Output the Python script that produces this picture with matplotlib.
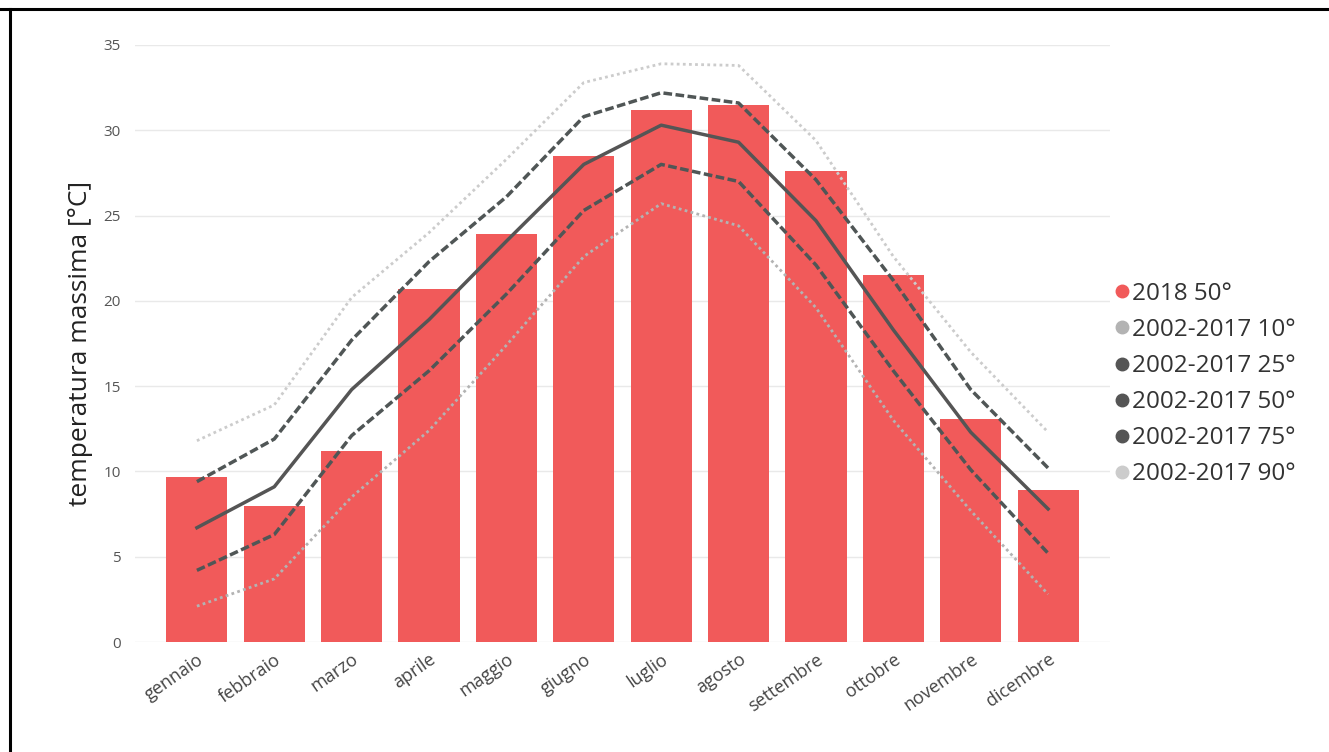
import matplotlib
matplotlib.use("Agg")
import matplotlib.pyplot as plt
import matplotlib.transforms as mtransforms
from matplotlib.lines import Line2D

plt.rcParams['font.family'] = ['Open Sans', 'DejaVu Sans']

months = ["gennaio", "febbraio", "marzo", "aprile", "maggio", "giugno",
          "luglio", "agosto", "settembre", "ottobre", "novembre", "dicembre"]

t2018_p50 = [9.7, 8.0, 11.2, 20.7, 23.9, 28.5, 31.2, 31.5, 27.6, 21.5, 13.1, 8.9]

p10 = [2.1, 3.7, 8.5, 12.4, 17.4, 22.6, 25.7, 24.4, 19.6, 13.0, 7.7, 2.8]
p25 = [4.2, 6.3, 12.1, 15.9, 20.4, 25.3, 28.0, 27.0, 22.1, 15.9, 10.1, 5.2]
p50 = [6.7, 9.1, 14.8, 18.9, 23.5, 28.0, 30.3, 29.3, 24.7, 18.3, 12.3, 7.8]
p75 = [9.4, 11.9, 17.7, 22.3, 26.1, 30.8, 32.2, 31.6, 27.1, 21.2, 14.8, 10.2]
p90 = [11.8, 13.9, 20.2, 24.0, 28.3, 32.8, 33.9, 33.8, 29.4, 22.6, 17.0, 12.3]

yticks = [0, 5, 10, 15, 20, 25, 30, 35]
legend_labels = ["2018 50°", "2002-2017 10°", "2002-2017 25°",
                 "2002-2017 50°", "2002-2017 75°", "2002-2017 90°"]

bar_color = "#F15A5A"
c10 = "#b3b3b3"
c25 = "#505656"
c50 = "#555555"
c75 = "#505656"
c90 = "#cccccc"

fig = plt.figure(figsize=(13.29, 7.52), dpi=100)
ax = fig.add_axes([135 / 1329, 110 / 752, 975 / 1329, 597 / 752])

x = list(range(len(months)))
ax.bar(x, t2018_p50, width=0.79, color=bar_color, zorder=2)

ax.plot(x, p90, color=c90, lw=2, ls=(0, (1, 1.2)), zorder=3)
ax.plot(x, p10, color=c10, lw=2, ls=(0, (1, 1.2)), zorder=3)
ax.plot(x, p75, color=c75, lw=2.5, ls=(0, (2.5, 1)), zorder=4)
ax.plot(x, p25, color=c25, lw=2.5, ls=(0, (2.5, 1)), zorder=4)
ax.plot(x, p50, color=c50, lw=2.5, ls="-", zorder=5)

ax.set_xlim(-0.8, 11.8)
ax.set_ylim(0, 35)
ax.set_yticks(yticks)
ax.set_yticklabels([str(v) for v in yticks], fontsize=11, color="#555555")
ax.set_xticks(x)
ax.set_xticklabels(months, rotation=35, ha="right", rotation_mode="anchor",
                   fontsize=13, color="#444444")
shift = mtransforms.ScaledTranslation(-5 / 100, 0, fig.dpi_scale_trans)
for lbl in ax.get_xticklabels():
    lbl.set_transform(lbl.get_transform() + shift)
ax.tick_params(axis="both", length=0)
ax.tick_params(axis="y", pad=10)
ax.tick_params(axis="x", pad=6)
ax.grid(axis="y", color="#e9e9e9", lw=1, zorder=0)
ax.set_axisbelow(True)
for s in ax.spines.values():
    s.set_visible(False)

ax.set_ylabel("temperatura massima [°C]", fontsize=19, color="#222222", labelpad=8)

handles = [Line2D([], [], ls="none", marker="o", markersize=9, color=c)
           for c in [bar_color, c10, "#555555", "#555555", "#555555", c90]]
fig.legend(handles, legend_labels, loc="upper left",
           bbox_to_anchor=(1103 / 1329, 1 - 272 / 752), frameon=False,
           fontsize=17.5, labelcolor="#333333", handletextpad=0.0,
           handlelength=0.8, labelspacing=0.5, borderaxespad=0)

# frame edges on top and left
fig.add_artist(Line2D([0, 1], [1 - 9 / 752, 1 - 9 / 752], color="black", lw=2.2,
                      transform=fig.transFigure))
fig.add_artist(Line2D([10 / 1329, 10 / 1329], [0, 1 - 9 / 752], color="black", lw=2.2,
                      transform=fig.transFigure))

fig.savefig("out.png", dpi=100, facecolor="white")
